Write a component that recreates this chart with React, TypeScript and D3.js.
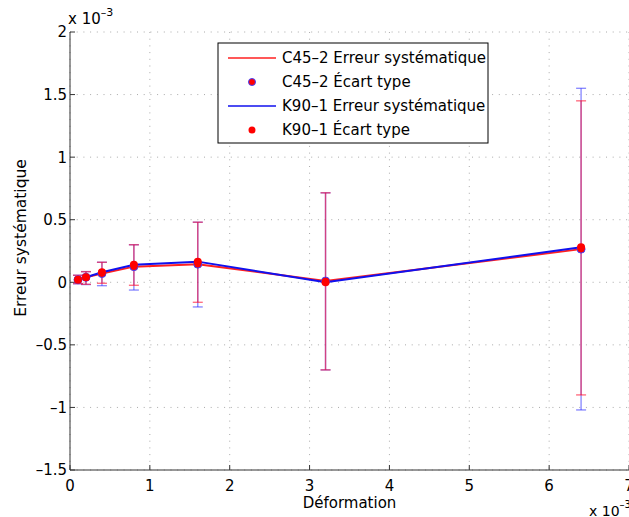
import React from "react";
import * as d3 from "d3";

const strain = [0.1, 0.2, 0.4, 0.8, 1.6, 3.2, 6.4];
const c45Err = [0.02, 0.04, 0.07, 0.125, 0.145, 0.01, 0.265];
const c45Lo = [-0.01, -0.016, -0.008, -0.024, -0.16, -0.7, -0.9];
const c45Hi = [0.056, 0.085, 0.16, 0.3, 0.48, 0.715, 1.45];
const k90Err = [0.02, 0.04, 0.08, 0.14, 0.165, 0.0, 0.28];
const k90Lo = [-0.012, -0.018, -0.027, -0.062, -0.197, -0.7, -1.02];
const k90Hi = [0.056, 0.085, 0.16, 0.3, 0.48, 0.715, 1.55];
const xTicks = [0, 1, 2, 3, 4, 5, 6, 7];
const yTicks = [-1.5, -1, -0.5, 0, 0.5, 1, 1.5, 2];
const legendLabels = [
  "C45–2 Erreur systématique",
  "C45–2 Écart type",
  "K90–1 Erreur systématique",
  "K90–1 Écart type",
];

const W = 629, H = 517;
const L = 70, R = 629, T = 32, B = 470;
const FONT = "DejaVu Sans, sans-serif";

export default function App() {
  const x = d3.scaleLinear().domain([0, 7]).range([L, R]);
  const y = d3.scaleLinear().domain([-1.5, 2]).range([B, T]);
  const line = d3.line<number>().x((_, i) => x(strain[i])).y((v) => y(v));
  const cap = 5;
  const errBars = (lo: number[], hi: number[], color: string, op: number) =>
    strain.map((s, i) => (
      <g key={i} stroke={color} strokeWidth={1.4} strokeOpacity={op}>
        <line x1={x(s)} x2={x(s)} y1={y(lo[i])} y2={y(hi[i])} />
        <line x1={x(s) - cap} x2={x(s) + cap} y1={y(lo[i])} y2={y(lo[i])} />
        <line x1={x(s) - cap} x2={x(s) + cap} y1={y(hi[i])} y2={y(hi[i])} />
      </g>
    ));
  const lx = 218, ly = 43, lw = 270, lh = 100;
  const rows = [58, 82, 106, 130];
  return (
    <svg width={W} height={H} style={{ position: "absolute", left: 0, top: 0, background: "#fff" }} fontFamily={FONT}>
      <rect width={W} height={H} fill="#fff" />
      {/* grid */}
      {xTicks.map((t) => (
        <line key={"gx" + t} x1={x(t)} x2={x(t)} y1={T} y2={B} stroke="#aaa" strokeDasharray="1,5.7" />
      ))}
      {yTicks.map((t) => (
        <line key={"gy" + t} x1={L} x2={R} y1={y(t)} y2={y(t)} stroke="#aaa" strokeDasharray="1,5.7" />
      ))}
      {/* axes */}
      <line x1={L} x2={L} y1={T} y2={B} stroke="#333" strokeWidth={1} />
      <line x1={L} x2={R} y1={B} y2={B} stroke="#333" strokeWidth={1} />
      {yTicks.map((t) => (
        <g key={"ty" + t}>
          <line x1={L} x2={L + 5} y1={y(t)} y2={y(t)} stroke="#333" />
          <text x={L - 3} y={y(t)} dy="0.36em" textAnchor="end" fontSize={15} fill="#000">
            {t < 0 ? "–" + Math.abs(t) : String(t)}
          </text>
        </g>
      ))}
      {xTicks.map((t) => (
        <g key={"tx" + t}>
          <line x1={x(t)} x2={x(t)} y1={B} y2={B - 5} stroke="#333" />
          <text x={x(t)} y={B + 21} textAnchor="middle" fontSize={15} fill="#000">
            {t}
          </text>
        </g>
      ))}
      <text x={68} y={24} fontSize={15} fill="#000">
        x 10
        <tspan dy={-8} fontSize={11}>–3</tspan>
      </text>
      <text x={589} y={516} fontSize={14} fill="#000">
        x 10
        <tspan dy={-8} fontSize={10}>–3</tspan>
      </text>
      <text x={(L + R) / 2} y={508} textAnchor="middle" fontSize={15} fill="#000">
        Déformation
      </text>
      <text transform={`translate(26,${238}) rotate(-90)`} textAnchor="middle" fontSize={15.5} fill="#000">
        Erreur systématique
      </text>
      {/* error bars */}
      {errBars(k90Lo, k90Hi, "#3030ff", 0.55)}
      {errBars(c45Lo, c45Hi, "#ff1030", 0.6)}
      {/* lines */}
      <path d={line(c45Err) || ""} fill="none" stroke="#ff2020" strokeWidth={2} />
      <path d={line(k90Err) || ""} fill="none" stroke="#1010ee" strokeWidth={2} />
      {strain.map((s, i) => (
        <circle key={"c" + i} cx={x(s)} cy={y(c45Err[i])} r={4} fill="#ff0000" stroke="#4040ff" strokeWidth={1} />
      ))}
      {strain.map((s, i) => (
        <circle key={"k" + i} cx={x(s)} cy={y(k90Err[i])} r={4} fill="#ff0000" />
      ))}
      {/* legend */}
      <rect x={lx} y={ly} width={lw} height={lh} fill="#fff" stroke="#000" strokeWidth={1} />
      <line x1={228} x2={276} y1={rows[0]} y2={rows[0]} stroke="#ff2020" strokeWidth={1.5} />
      <circle cx={252} cy={rows[1]} r={3.5} fill="#ff0000" stroke="#4040ff" strokeWidth={1} />
      <line x1={228} x2={276} y1={rows[2]} y2={rows[2]} stroke="#1010ee" strokeWidth={1.5} />
      <circle cx={252} cy={rows[3]} r={3.5} fill="#ff0000" />
      {legendLabels.map((lab, i) => (
        <text key={lab} x={282} y={rows[i]} dy="0.36em" fontSize={15} fill="#000">
          {lab}
        </text>
      ))}
    </svg>
  );
}
